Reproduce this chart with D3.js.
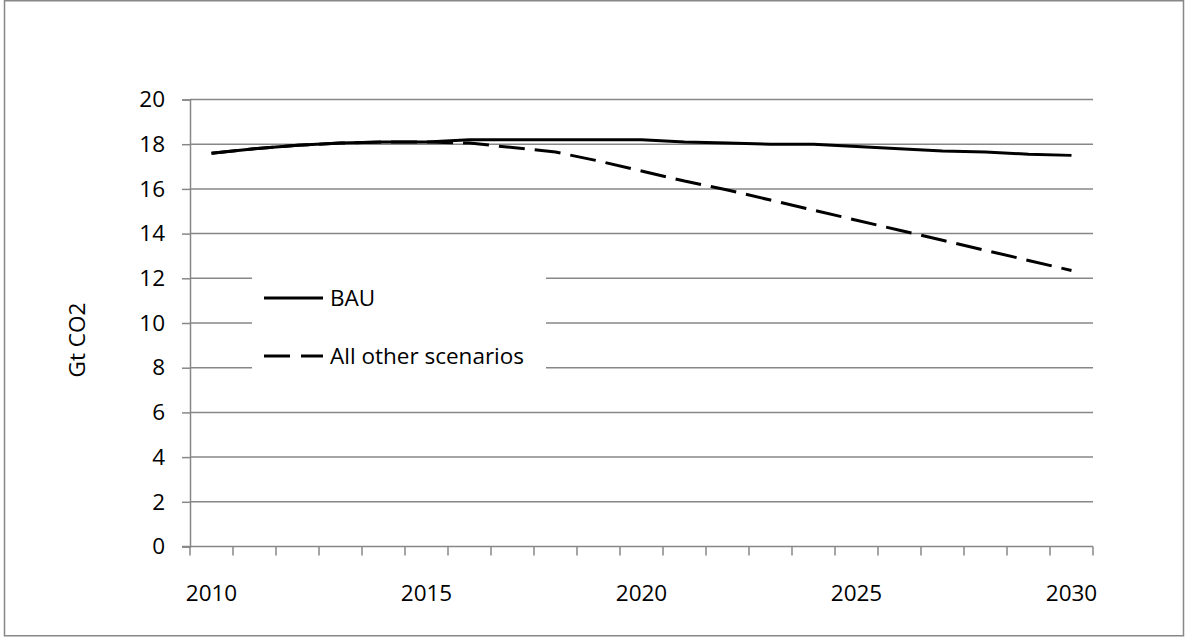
<!DOCTYPE html>
<html>
<head>
<meta charset="utf-8">
<script src="https://cdn.jsdelivr.net/npm/d3@7/dist/d3.min.js"></script>
<style>
  body { margin: 0; background: #fff; }
  svg text { font-family: "Open Sans", "Liberation Sans", sans-serif; fill: #000; }
</style>
</head>
<body>
<script>
// years on the category axis, labels every 5
var years = d3.range(2010, 2031);
var yearLabels = [2010, 2015, 2020, 2025, 2030];
var bau = [17.6, 17.8, 17.95, 18.05, 18.1, 18.1, 18.2, 18.2, 18.2, 18.2, 18.2,
           18.1, 18.05, 18.0, 18.0, 17.9, 17.8, 17.7, 17.65, 17.55, 17.5];
var other = [17.6, 17.8, 17.95, 18.05, 18.1, 18.1, 18.05, 17.85, 17.65, 17.25, 16.8,
             16.35, 15.95, 15.5, 15.05, 14.6, 14.15, 13.7, 13.25, 12.8, 12.35];
var yTicks = [0, 2, 4, 6, 8, 10, 12, 14, 16, 18, 20];
var seriesNames = ['BAU', 'All other scenarios'];

var W = 1185, H = 637;
var pl = 190, pr = 1093, pt = 99.5, pb = 546.5;
var grey = '#878787';
var fs = 22.5;

var svg = d3.select('body').append('svg')
    .attr('width', W).attr('height', H);

svg.append('rect')
    .attr('x', 4.5).attr('y', 0.75).attr('width', 1179).attr('height', 635)
    .attr('fill', '#fff').attr('stroke', grey).attr('stroke-width', 1.5);

var x = d3.scaleBand().domain(years).range([pl, pr]);
var y = d3.scaleLinear().domain([0, 20]).range([pb, pt]);

// gridlines
svg.append('g').selectAll('line')
    .data(yTicks.filter(function(d) { return d > 0; }))
    .enter().append('line')
    .attr('x1', pl).attr('x2', pr)
    .attr('y1', function(d) { return y(d); })
    .attr('y2', function(d) { return y(d); })
    .attr('stroke', grey).attr('stroke-width', 1.5);

// y axis
var yAxis = svg.append('g')
    .attr('transform', 'translate(' + pl + ',0)')
    .call(d3.axisLeft(y).tickValues(yTicks).tickSize(8).tickPadding(17));
yAxis.select('.domain').attr('stroke', grey).attr('stroke-width', 1.5);
yAxis.selectAll('.tick line').attr('stroke', grey).attr('stroke-width', 1.5);
yAxis.selectAll('text').attr('font-size', fs).attr('fill', '#000')
    .attr('font-family', '"Open Sans", "Liberation Sans", sans-serif');

// x axis: ticks between categories
var xAxis = svg.append('g')
    .attr('transform', 'translate(0,' + pb + ')');
xAxis.append('line')
    .attr('x1', pl - 8).attr('x2', pr)
    .attr('stroke', grey).attr('stroke-width', 1.5);
xAxis.selectAll('.tk')
    .data(years.concat([2031]))
    .enter().append('line')
    .attr('x1', function(d) { return d === 2031 ? pr : x(d); })
    .attr('x2', function(d) { return d === 2031 ? pr : x(d); })
    .attr('y1', 0).attr('y2', 9)
    .attr('stroke', grey).attr('stroke-width', 1.5);
xAxis.selectAll('.lbl')
    .data(yearLabels)
    .enter().append('text')
    .attr('x', function(d) { return x(d) + x.bandwidth() / 2; })
    .attr('y', 54)
    .attr('text-anchor', 'middle')
    .attr('font-size', fs)
    .text(function(d) { return d; });

svg.append('text')
    .attr('transform', 'translate(85,340) rotate(-90)')
    .attr('text-anchor', 'middle')
    .attr('font-size', fs)
    .text('Gt CO2');

var line = d3.line()
    .x(function(d, i) { return x(years[i]) + x.bandwidth() / 2; })
    .y(function(d) { return y(d); });

svg.append('path').datum(other)
    .attr('d', line).attr('fill', 'none')
    .attr('stroke', '#000').attr('stroke-width', 3)
    .attr('stroke-dasharray', '26,10');
svg.append('path').datum(bau)
    .attr('d', line).attr('fill', 'none')
    .attr('stroke', '#000').attr('stroke-width', 3);

// legend
var lg = svg.append('g');
lg.append('rect')
    .attr('x', 252).attr('y', 268).attr('width', 294).attr('height', 108)
    .attr('fill', '#fff');
var ly = [298, 356];
seriesNames.forEach(function(name, i) {
    lg.append('line')
        .attr('x1', 264).attr('x2', 323)
        .attr('y1', ly[i]).attr('y2', ly[i])
        .attr('stroke', '#000').attr('stroke-width', 3)
        .attr('stroke-dasharray', i === 1 ? '26,11' : null);
    lg.append('text')
        .attr('x', 330).attr('y', ly[i] + 8)
        .attr('font-size', fs)
        .text(name);
});
</script>
</body>
</html>
